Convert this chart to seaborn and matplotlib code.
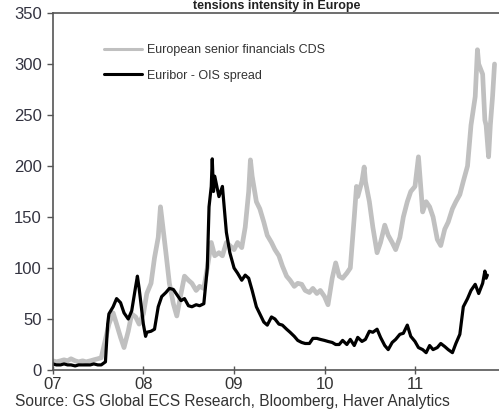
import matplotlib
matplotlib.use("Agg")
import matplotlib.pyplot as plt
import pandas as pd
import seaborn as sns

# European senior financials CDS (bp)
cds_dates = [
    "2007-01-01", "2007-01-15", "2007-02-01", "2007-02-15", "2007-03-01", "2007-03-15",
    "2007-04-01", "2007-04-15", "2007-05-01", "2007-05-15", "2007-06-01", "2007-06-15",
    "2007-07-01", "2007-07-15", "2007-08-01", "2007-08-15", "2007-09-01", "2007-09-15",
    "2007-10-01", "2007-10-15", "2007-11-01", "2007-11-15", "2007-12-01", "2007-12-15",
    "2008-01-01", "2008-01-15", "2008-02-01", "2008-02-15", "2008-03-01", "2008-03-10",
    "2008-03-15", "2008-04-01", "2008-04-15", "2008-05-01", "2008-05-15", "2008-06-01",
    "2008-06-15", "2008-07-01", "2008-07-15", "2008-08-01", "2008-08-15", "2008-09-01",
    "2008-09-15", "2008-10-01", "2008-10-15", "2008-11-01", "2008-11-15", "2008-12-01",
    "2008-12-15", "2009-01-01", "2009-01-15", "2009-02-01", "2009-02-15", "2009-03-01",
    "2009-03-08", "2009-03-15", "2009-04-01", "2009-04-15", "2009-05-01", "2009-05-15",
    "2009-06-01", "2009-06-15", "2009-07-01", "2009-07-15", "2009-08-01", "2009-08-15",
    "2009-09-01", "2009-09-15", "2009-10-01", "2009-10-15", "2009-11-01", "2009-11-15",
    "2009-12-01", "2009-12-15", "2010-01-01", "2010-01-15", "2010-02-01", "2010-02-15",
    "2010-03-01", "2010-03-15", "2010-04-01", "2010-04-15", "2010-05-01", "2010-05-10",
    "2010-05-15", "2010-06-01", "2010-06-10", "2010-06-15", "2010-07-01", "2010-07-15",
    "2010-08-01", "2010-08-15", "2010-09-01", "2010-09-15", "2010-10-01", "2010-10-15",
    "2010-11-01", "2010-11-15", "2010-12-01", "2010-12-15", "2011-01-01", "2011-01-15",
    "2011-02-01", "2011-02-15", "2011-03-01", "2011-03-15", "2011-04-01", "2011-04-15",
    "2011-05-01", "2011-05-15", "2011-06-01", "2011-06-15", "2011-07-01", "2011-07-15",
    "2011-08-01", "2011-08-15", "2011-09-01", "2011-09-10", "2011-09-15", "2011-10-01",
    "2011-10-10", "2011-10-15", "2011-10-25", "2011-11-01", "2011-11-10", "2011-11-18",
]
cds_values = [
    9, 8, 9, 10, 9, 11,
    9, 8, 9, 8, 9, 10,
    11, 12, 30, 45, 56, 45,
    32, 22, 38, 55, 52, 45,
    55, 75, 85, 110, 130, 160,
    150, 115, 85, 65, 53, 75,
    92, 88, 85, 78, 82, 80,
    100, 125, 112, 115, 112, 125,
    122, 118, 125, 120, 140, 175,
    206, 190, 165, 158, 145, 132,
    125, 118, 112, 102, 92, 88,
    82, 85, 84, 78, 76, 80,
    75, 78, 72, 64, 90, 105,
    92, 90, 95, 100, 150, 180,
    170, 185, 199, 185, 165, 140,
    115, 125, 142, 132, 125, 118,
    130, 150, 165, 175, 180, 209,
    155, 165, 160, 150, 128, 122,
    138, 145, 158, 165, 172, 185,
    200, 240, 268, 314, 300, 290,
    245, 240, 209, 240, 268, 300,
]

# Euribor - OIS spread (bp)
ois_dates = [
    "2007-01-01", "2007-01-15", "2007-02-01", "2007-02-15", "2007-03-01", "2007-03-15",
    "2007-04-01", "2007-04-15", "2007-05-01", "2007-05-15", "2007-06-01", "2007-06-15",
    "2007-07-01", "2007-07-15", "2007-08-01", "2007-08-10", "2007-08-15", "2007-09-01",
    "2007-09-15", "2007-10-01", "2007-10-15", "2007-11-01", "2007-11-15", "2007-12-01",
    "2007-12-08", "2007-12-15", "2008-01-01", "2008-01-10", "2008-01-15", "2008-02-01",
    "2008-02-15", "2008-03-01", "2008-03-15", "2008-04-01", "2008-04-15", "2008-05-01",
    "2008-05-15", "2008-06-01", "2008-06-15", "2008-07-01", "2008-07-15", "2008-08-01",
    "2008-08-15", "2008-09-01", "2008-09-15", "2008-09-22", "2008-10-01", "2008-10-05",
    "2008-10-10", "2008-10-15", "2008-11-01", "2008-11-15", "2008-12-01", "2008-12-15",
    "2009-01-01", "2009-01-15", "2009-02-01", "2009-02-15", "2009-03-01", "2009-03-15",
    "2009-04-01", "2009-04-15", "2009-05-01", "2009-05-15", "2009-06-01", "2009-06-15",
    "2009-07-01", "2009-07-15", "2009-08-01", "2009-08-15", "2009-09-01", "2009-09-15",
    "2009-10-01", "2009-10-15", "2009-11-01", "2009-11-15", "2009-12-01", "2009-12-15",
    "2010-01-01", "2010-01-15", "2010-02-01", "2010-02-15", "2010-03-01", "2010-03-15",
    "2010-04-01", "2010-04-15", "2010-05-01", "2010-05-15", "2010-06-01", "2010-06-15",
    "2010-07-01", "2010-07-15", "2010-08-01", "2010-08-15", "2010-09-01", "2010-09-15",
    "2010-10-01", "2010-10-15", "2010-11-01", "2010-11-15", "2010-12-01", "2010-12-15",
    "2011-01-01", "2011-01-15", "2011-02-01", "2011-02-15", "2011-03-01", "2011-03-15",
    "2011-04-01", "2011-04-15", "2011-05-01", "2011-05-15", "2011-06-01", "2011-06-15",
    "2011-07-01", "2011-07-15", "2011-08-01", "2011-08-15", "2011-09-01", "2011-09-15",
    "2011-10-01", "2011-10-10", "2011-10-15", "2011-10-20",
]
ois_values = [
    6, 5, 5, 6, 5, 5,
    4, 5, 5, 5, 5, 6,
    5, 5, 8, 45, 55, 62,
    70, 66, 56, 50, 58, 82,
    92, 80, 45, 33, 37, 38,
    40, 62, 72, 76, 80, 79,
    74, 68, 70, 63, 62, 64,
    63, 65, 100, 160, 180, 207,
    175, 190, 170, 180, 135, 115,
    100, 95, 88, 93, 90, 78,
    62, 55, 47, 44, 52, 50,
    45, 44, 40, 37, 33, 29,
    27, 26, 26, 31, 31, 30,
    29, 28, 27, 25, 25, 29,
    25, 30, 24, 32, 28, 30,
    38, 37, 40, 32, 24, 20,
    27, 30, 35, 36, 44, 33,
    28, 22, 20, 17, 24, 20,
    22, 26, 23, 20, 17, 26,
    35, 62, 70, 78, 84, 75,
    85, 97, 90, 93,
]

series_labels = ["European senior financials CDS", "Euribor - OIS spread"]
year_ticks = ["2007-01-01", "2008-01-01", "2009-01-01", "2010-01-01", "2011-01-01"]
year_labels = ["07", "08", "09", "10", "11"]
y_ticks = [0, 50, 100, 150, 200, 250, 300, 350]

cds = pd.DataFrame({"date": pd.to_datetime(cds_dates), "bp": cds_values})
ois = pd.DataFrame({"date": pd.to_datetime(ois_dates), "bp": ois_values})

sns.set_theme(style="ticks")
plt.rcParams["font.family"] = ["Liberation Sans", "DejaVu Sans"]

fig = plt.figure(figsize=(4.99, 4.17), dpi=100)
ax = fig.add_axes([0.106, 0.1127, 0.894, 0.8561])

sns.lineplot(data=cds, x="date", y="bp", ax=ax, color="#c0c0c0", linewidth=3.4,
             label=series_labels[0], estimator=None, sort=False)
sns.lineplot(data=ois, x="date", y="bp", ax=ax, color="#000000", linewidth=2.3,
             label=series_labels[1], estimator=None, sort=False)

ax.set_xlim(pd.Timestamp("2007-01-01"), pd.Timestamp("2011-12-06"))
ax.set_ylim(0, 350)
ax.set_xticks(pd.to_datetime(year_ticks))
ax.set_xticklabels(year_labels)
ax.set_yticks(y_ticks)
ax.set_xlabel("")
ax.set_ylabel("")

for side in ["left", "bottom", "top"]:
    ax.spines[side].set_color("#555555")
    ax.spines[side].set_linewidth(1.2)
ax.spines["right"].set_visible(False)

ax.tick_params(axis="x", direction="inout", length=6, width=1, color="#555555",
               labelsize=12, labelcolor="#333333", pad=2)
ax.tick_params(axis="y", direction="out", length=4, width=1, color="#555555",
               labelsize=12, labelcolor="#333340", pad=4)

leg = ax.legend(loc="upper left", bbox_to_anchor=(0.09, 0.945), frameon=False,
                fontsize=9, handlelength=3.0, handletextpad=0.4, labelspacing=1.1)
for text in leg.get_texts():
    text.set_color("#333333")
for line in leg.get_lines():
    line.set_linewidth(2.2)

# Heading squeezed into the thin strip above the plot frame
fig.text(0.555, 0.999, "tensions intensity in Europe", ha="center", va="top",
         fontsize=9, fontweight="bold", color="#222222")
fig.text(0.03, 0.038, "Source: GS Global ECS Research, Bloomberg, Haver Analytics",
         ha="left", va="center", fontsize=11.2, color="#333333")

fig.savefig("out.png", dpi=100)
